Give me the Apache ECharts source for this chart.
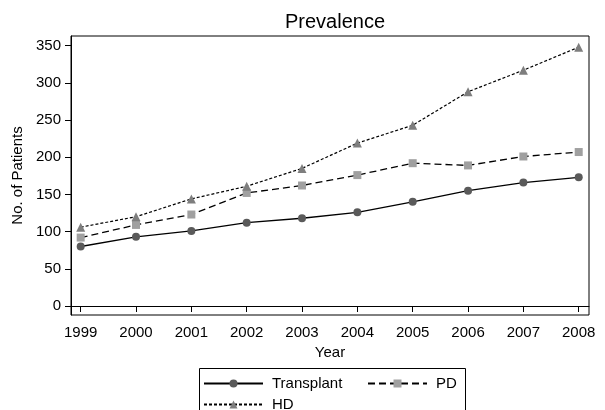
<!DOCTYPE html>
<html><head><meta charset="utf-8">
<script src="https://cdn.jsdelivr.net/npm/echarts@6/dist/echarts.min.js"></script>
<style>html,body{margin:0;padding:0;background:#fff}#c{width:605px;height:410px}</style>
</head><body><div id="c"></div>
<script>
const years = [1999, 2000, 2001, 2002, 2003, 2004, 2005, 2006, 2007, 2008];
const transplant = [80, 93, 101, 112, 118, 126, 140, 155, 166, 173];
const pd = [92, 109, 123, 152, 162, 176, 192, 189, 201, 207];
const hd = [106, 120, 144, 161, 185, 219, 243, 288, 317, 348];
const yTicks = [0, 50, 100, 150, 200, 250, 300, 350];

const font = 'Liberation Sans, Arial, Helvetica, sans-serif';
const pair = arr => years.map((y, i) => [y, arr[i]]);

const chart = echarts.init(document.getElementById('c'));
const legendCommon = {
  orient: 'horizontal', itemWidth: 59, itemHeight: 10, padding: 0,
  textStyle: {fontFamily: font, fontSize: 15, color: '#000', padding: [0, 0, 0, 4]},
  selectedMode: false
};
chart.setOption({
  animation: false,
  title: {text: 'Prevalence', left: 330, textAlign: 'center', top: 7,
    textStyle: {fontFamily: font, fontSize: 20, fontWeight: 'normal', color: '#000'}},
  grid: {left: 71, right: 16, top: 36, bottom: 95, show: true, borderColor: '#000', borderWidth: 1, backgroundColor: '#fff'},
  xAxis: {type: 'value', min: 1998.825, max: 2008.186,
    name: 'Year', nameLocation: 'middle', nameGap: 23,
    nameTextStyle: {fontFamily: font, fontSize: 15, color: '#000'},
    axisLine: {show: true, lineStyle: {color: '#000', width: 1}},
    axisTick: {show: true, length: 6, customValues: years, lineStyle: {color: '#000'}},
    axisLabel: {customValues: years, margin: 10, fontFamily: font, fontSize: 15, color: '#000', formatter: v => String(Math.round(v))},
    splitLine: {show: false}},
  yAxis: {type: 'value', min: -12.1, max: 363,
    name: 'No. of Patients', nameLocation: 'middle', nameGap: 38,
    nameTextStyle: {fontFamily: font, fontSize: 15, color: '#000'},
    axisLine: {show: true, lineStyle: {color: '#000', width: 1}},
    axisTick: {show: true, length: 6, customValues: yTicks, lineStyle: {color: '#000'}},
    axisLabel: {customValues: yTicks, margin: 10, fontFamily: font, fontSize: 15, color: '#000'},
    splitLine: {show: false}},
  legend: [
    Object.assign({}, legendCommon, {data: ['Transplant'], left: 203, top: 376}),
    Object.assign({}, legendCommon, {data: ['PD'], left: 367, top: 376}),
    Object.assign({}, legendCommon, {data: ['HD'], left: 203, top: 397})
  ],
  graphic: [{type: 'rect', left: 197, top: 366, shape: {width: 266, height: 60},
    style: {fill: 'none', stroke: '#000', lineWidth: 1}}],
  series: [
    {name: 'Transplant', type: 'line', data: pair(transplant), symbol: 'circle', symbolSize: 8,
      itemStyle: {color: '#5a5a5a'}, lineStyle: {color: '#000', width: 1.3, type: 'solid'}},
    {name: 'PD', type: 'line', data: pair(pd), symbol: 'rect', symbolSize: 8,
      itemStyle: {color: '#a0a0a0'}, lineStyle: {color: '#000', width: 1.3, type: [7, 4]}},
    {name: 'HD', type: 'line', data: pair(hd), symbol: 'triangle', symbolSize: 9,
      itemStyle: {color: '#7e7e7e'}, lineStyle: {color: '#000', width: 1.2, type: [3, 2]}}
  ]
});
</script></body></html>
